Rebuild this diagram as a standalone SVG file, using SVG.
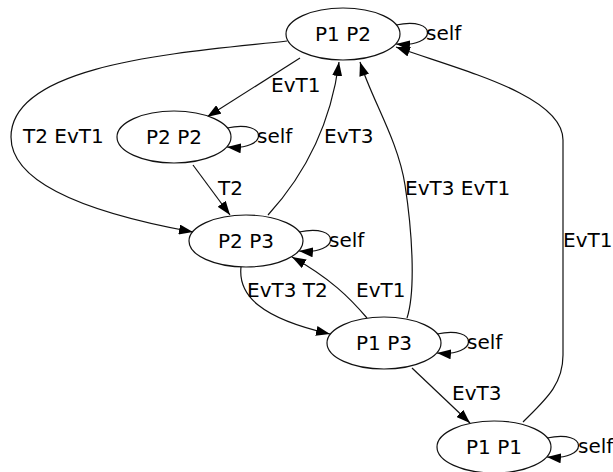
<svg xmlns="http://www.w3.org/2000/svg" width="613" height="472" viewBox="0 0 613 472">
  <style>
    .node ellipse { fill: #ffffff; stroke: #111111; stroke-width: 1.2; }
    .node text { font-family: "DejaVu Sans", sans-serif; font-size: 20px; fill: #000000; text-anchor: middle; }
    .edge { fill: none; stroke: #111111; stroke-width: 1.2; marker-end: url(#arrow); }
    .lbl { font-family: "DejaVu Sans", sans-serif; font-size: 20px; fill: #000000; }
  </style>
  <defs>
    <marker id="arrow" markerUnits="userSpaceOnUse" markerWidth="14" markerHeight="10" refX="14" refY="5" orient="auto">
      <path d="M0,0 L14,5 L0,10 z" fill="#000000"/>
    </marker>
  </defs>
  <rect width="613" height="472" fill="#ffffff"/>

  <g id="connectors">
    <!-- P1 P2 -> P2 P2 -->
    <path class="edge" d="M300,58 L207,117"/>
    <text class="lbl" x="271" y="92">EvT1</text>
    <!-- P1 P2 -> P2 P3 (wide arc on the left) -->
    <path class="edge" d="M287,41 C190,52 11,62 11,137 C11,187 100,215 193,232"/>
    <text class="lbl" x="23" y="143">T2 EvT1</text>
    <!-- P2 P2 -> P2 P3 -->
    <path class="edge" d="M193,165 L230,215"/>
    <text class="lbl" x="218" y="195">T2</text>
    <!-- P2 P3 -> P1 P2 -->
    <path class="edge" d="M268,215 C300,180 330,130 339,62"/>
    <text class="lbl" x="324" y="143">EvT3</text>
    <!-- P1 P3 -> P1 P2 -->
    <path class="edge" d="M407,318 C416,290 412,230 405,185 C398,140 372,100 360,62"/>
    <text class="lbl" x="405" y="195">EvT3 EvT1</text>
    <!-- P1 P1 -> P1 P2 -->
    <path class="edge" d="M523,422 C545,400 563,385 563,355 L563,140 C563,95 460,70 396,47"/>
    <text class="lbl" x="563" y="247">EvT1</text>
    <!-- P2 P3 -> P1 P3 -->
    <path class="edge" d="M241,267 C238,295 260,318 330,334"/>
    <text class="lbl" x="247" y="297">EvT3 T2</text>
    <!-- P1 P3 -> P2 P3 -->
    <path class="edge" d="M367,318 C350,298 330,278 292,257"/>
    <text class="lbl" x="356" y="297">EvT1</text>
    <!-- P1 P3 -> P1 P1 -->
    <path class="edge" d="M412,368 L470,423"/>
    <text class="lbl" x="452" y="400">EvT3</text>

    <!-- self loops -->
    <path class="edge" d="M396,25 C438,16 438,48 396,44"/>
    <text class="lbl" x="426" y="40">self</text>
    <path class="edge" d="M227,128 C269,119 269,151 227,147"/>
    <text class="lbl" x="257" y="143">self</text>
    <path class="edge" d="M299,232 C341,223 341,255 299,251"/>
    <text class="lbl" x="329" y="247">self</text>
    <path class="edge" d="M437,334 C479,325 479,357 437,353"/>
    <text class="lbl" x="467" y="349">self</text>
    <path class="edge" d="M547,438 C589,429 589,461 547,457"/>
    <text class="lbl" x="578" y="453">self</text>
  </g>

  <g id="P1P2" class="node">
    <ellipse cx="343" cy="34" rx="57" ry="26"/>
    <text x="343" y="41">P1 P2</text>
  </g>
  <g id="P2P2" class="node">
    <ellipse cx="174" cy="137" rx="57" ry="26"/>
    <text x="174" y="144">P2 P2</text>
  </g>
  <g id="P2P3" class="node">
    <ellipse cx="246" cy="241" rx="57" ry="26"/>
    <text x="246" y="248">P2 P3</text>
  </g>
  <g id="P1P3" class="node">
    <ellipse cx="384" cy="343" rx="57" ry="26"/>
    <text x="384" y="350">P1 P3</text>
  </g>
  <g id="P1P1" class="node">
    <ellipse cx="494" cy="447" rx="57" ry="26"/>
    <text x="494" y="454">P1 P1</text>
  </g>
</svg>
